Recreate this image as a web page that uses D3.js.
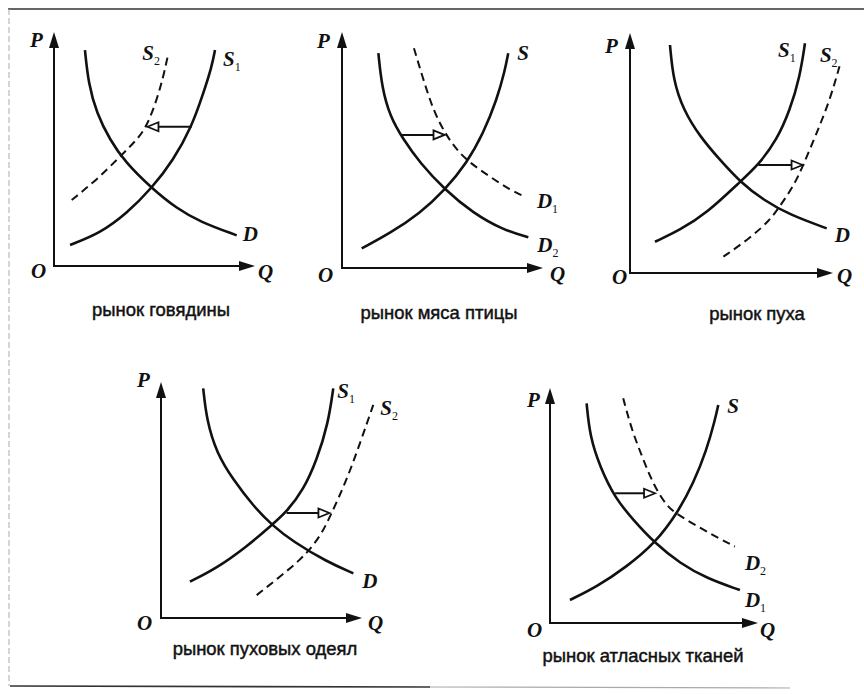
<!DOCTYPE html>
<html>
<head>
<meta charset="utf-8">
<script src="https://cdn.jsdelivr.net/npm/d3@7"></script>
<style>
  body { margin: 0; background: #fff; }
  svg { display: block; }
</style>
</head>
<body>
<div id="chart"></div>
<script>
// captions under each small diagram
const captions = ["рынок говядины", "рынок мяса птицы", "рынок пуха", "рынок пуховых одеял", "рынок атласных тканей"];

// curve points as [Q, P] in axis units (0..10)
const beefD  = [[1.54, 9.23], [1.71, 7.81], [2.12, 6.53], [2.79, 5.38], [3.53, 4.45], [4.86, 3.32], [6.10, 2.46], [7.26, 1.89], [9.09, 1.31]];
const beefS1 = [[0.80, 0.90], [2.29, 1.40], [3.62, 2.25], [4.86, 3.32], [5.94, 4.53], [6.85, 5.95], [7.43, 7.38], [7.85, 8.52], [8.01, 9.23]];
const beefS2 = [[0.88, 2.82], [2.12, 3.68], [3.28, 4.67], [4.11, 5.38], [4.61, 5.95], [5.11, 7.09], [5.44, 8.09], [5.69, 9.09]];

const poultryS  = [[0.98, 0.83], [2.39, 1.47], [3.88, 2.32], [5.12, 3.31], [6.20, 4.44], [7.03, 5.71], [7.70, 7.12], [8.11, 8.39], [8.27, 9.10]];
const poultryD2 = [[1.81, 9.10], [1.98, 7.68], [2.39, 6.41], [3.05, 5.45], [3.88, 4.45], [5.12, 3.31], [6.53, 2.32], [8.02, 1.61], [9.27, 1.30]];
const poultryD1 = [[3.58, 9.31], [4.05, 7.97], [4.54, 6.69], [5.12, 5.71], [5.71, 5.00], [6.37, 4.45], [7.36, 3.87], [8.36, 3.31], [9.10, 3.02]];

const downD  = [[1.97, 9.50], [2.13, 8.04], [2.63, 6.79], [3.45, 5.68], [4.43, 4.71], [5.42, 3.80], [6.57, 3.04], [7.88, 2.42], [9.69, 1.86]];
const downS1 = [[1.23, 1.30], [2.46, 1.79], [3.78, 2.49], [5.42, 3.80], [6.32, 4.50], [7.23, 5.54], [7.88, 6.79], [8.37, 8.18], [8.62, 9.57]];
const downS2 = [[4.60, 0.68], [5.91, 1.45], [6.90, 2.21], [7.31, 2.70], [8.05, 3.60], [8.54, 4.50], [9.19, 5.82], [9.85, 7.21], [10.34, 8.67]];

const quiltD  = [[2.10, 9.73], [2.27, 8.39], [2.77, 6.98], [3.60, 5.85], [4.59, 4.75], [5.51, 3.94], [6.58, 3.23], [8.24, 2.39], [9.57, 1.89]];
const quiltS1 = [[1.44, 1.54], [2.77, 2.11], [4.26, 3.02], [5.51, 3.94], [6.25, 4.50], [7.08, 5.42], [7.75, 6.69], [8.32, 8.25], [8.57, 9.73]];
const quiltS2 = [[4.76, 0.97], [5.92, 1.75], [6.92, 2.46], [7.50, 3.00], [8.00, 3.59], [8.41, 4.29], [9.24, 5.85], [9.90, 7.40], [10.56, 9.03]];

const satinD1 = [[1.76, 9.35], [1.92, 7.93], [2.40, 6.65], [3.13, 5.31], [4.01, 4.38], [5.05, 3.39], [6.25, 2.54], [7.53, 1.90], [9.13, 1.40]];
const satinS  = [[0.96, 0.98], [2.25, 1.54], [3.69, 2.40], [5.05, 3.39], [6.17, 4.74], [6.89, 5.94], [7.53, 7.36], [7.93, 8.64], [8.09, 9.28]];
const satinD2 = [[3.52, 9.56], [3.93, 8.21], [4.49, 6.94], [4.97, 5.90], [5.61, 4.95], [6.25, 4.55], [7.21, 4.05], [8.17, 3.58], [8.89, 3.25]];

// shift arrows: [P level, Q from, Q to]
const shifts = [[5.95, 6.85, 4.65], [5.64, 2.95, 5.10], [4.50, 6.32, 8.50], [4.45, 6.25, 8.38], [5.52, 3.13, 5.05]];

// layout of each diagram (pixels) and its curves
const panels = [
  { ox: 54,  oy: 266, w: 201, h: 234, cap: [107, 50], P: [-24, 15], O: [-23, 12], Q: [3, 13],
    curves: [
      { pts: beefS2, name: "S", sub: "2", dashed: true, lab: [-26, 7] },
      { pts: beefS1, name: "S", sub: "1", lab: [8, 16] },
      { pts: beefD,  name: "D", sub: "",  lab: [6, 6] }
    ] },
  { ox: 342, oy: 268, w: 201, h: 236, cap: [97, 51], P: [-25, 16], O: [-24, 14], Q: [7, 13],
    curves: [
      { pts: poultryS,  name: "S", sub: "",  lab: [9, 7] },
      { pts: poultryD1, name: "D", sub: "1", dashed: true, lab: [12, 11] },
      { pts: poultryD2, name: "D", sub: "2", lab: [9, 15] }
    ] },
  { ox: 630, oy: 273, w: 203, h: 240, cap: [127, 47], P: [-25, 20], O: [-18, 11], Q: [4, 10],
    curves: [
      { pts: downS1, name: "S", sub: "1", lab: [-27, 14] },
      { pts: downS2, name: "S", sub: "2", dashed: true, lab: [-20, -3] },
      { pts: downD,  name: "D", sub: "",  lab: [8, 14] }
    ] },
  { ox: 161, oy: 618, w: 201, h: 236, cap: [104, 37], P: [-24, 5],  O: [-24, 12], Q: [6, 12],
    curves: [
      { pts: quiltS1, name: "S", sub: "1", lab: [4, 10] },
      { pts: quiltS2, name: "S", sub: "2", dashed: true, lab: [7, 10] },
      { pts: quiltD,  name: "D", sub: "",  lab: [9, 15] }
    ] },
  { ox: 550, oy: 623, w: 208, h: 235, cap: [93, 39], P: [-23, 19], O: [-23, 14], Q: [2, 14],
    curves: [
      { pts: satinS,  name: "S", sub: "",  lab: [9, 8] },
      { pts: satinD2, name: "D", sub: "2", dashed: true, lab: [10, 23] },
      { pts: satinD1, name: "D", sub: "1", lab: [5, 17] }
    ] }
];

const W = 864, H = 694;
const serif = "'Liberation Serif', 'Times New Roman', serif";

const svg = d3.select('#chart').append('svg')
  .attr('width', W)
  .attr('height', H);

// page frame (scan edges)
svg.append('line').attr('x1', 8).attr('y1', 9).attr('x2', W).attr('y2', 9)
  .attr('stroke', '#333').attr('stroke-width', 1.6);
svg.append('line').attr('x1', 9).attr('y1', 9).attr('x2', 9).attr('y2', 686)
  .attr('stroke', '#aaa').attr('stroke-width', 1).attr('stroke-dasharray', '6,3');
svg.append('line').attr('x1', 10).attr('y1', 686).attr('x2', 430).attr('y2', 687)
  .attr('stroke', '#333').attr('stroke-width', 1.6);
svg.append('line').attr('x1', 430).attr('y1', 687).attr('x2', 790).attr('y2', 688)
  .attr('stroke', '#aaa').attr('stroke-width', 1.2);

const capTexts = [];

panels.forEach((p, i) => {
  const x = d3.scaleLinear().domain([0, 10]).range([p.ox, p.ox + p.w]);
  const y = d3.scaleLinear().domain([0, 10]).range([p.oy, p.oy - p.h]);
  const g = svg.append('g');

  // axes
  g.append('line')
    .attr('x1', x(0)).attr('y1', y(0)).attr('x2', x(0)).attr('y2', y(10) + 12)
    .attr('stroke', '#111').attr('stroke-width', 2);
  g.append('line')
    .attr('x1', x(0) - 1).attr('y1', y(0)).attr('x2', x(10) - 12).attr('y2', y(0))
    .attr('stroke', '#111').attr('stroke-width', 2);
  g.append('path')
    .attr('d', `M${x(0)},${y(10)} L${x(0) - 5},${y(10) + 16} L${x(0) + 5},${y(10) + 16} Z`)
    .attr('fill', '#111');
  g.append('path')
    .attr('d', `M${x(10)},${y(0)} L${x(10) - 16},${y(0) - 5} L${x(10) - 16},${y(0) + 5} Z`)
    .attr('fill', '#111');

  // axis letters
  const letter = (txt, px, py) => g.append('text')
    .attr('x', px).attr('y', py)
    .attr('font-family', serif).attr('font-style', 'italic').attr('font-weight', 'bold')
    .attr('font-size', 21).attr('fill', '#111')
    .text(txt);
  letter('P', x(0) + p.P[0], y(10) + p.P[1]);
  letter('O', x(0) + p.O[0], y(0) + p.O[1]);
  letter('Q', x(10) + p.Q[0], y(0) + p.Q[1]);

  // curves
  const line = d3.line()
    .x(d => x(d[0]))
    .y(d => y(d[1]))
    .curve(d3.curveBasis);

  p.curves.forEach(c => {
    g.append('path')
      .attr('d', line(c.pts))
      .attr('fill', 'none')
      .attr('stroke', '#111')
      .attr('stroke-width', c.dashed ? 2 : 2.6)
      .attr('stroke-dasharray', c.dashed ? '8,5' : null);

    const end = c.pts[c.pts.length - 1];
    const t = g.append('text')
      .attr('x', x(end[0]) + c.lab[0])
      .attr('y', y(end[1]) + c.lab[1])
      .attr('font-family', serif).attr('font-style', 'italic').attr('font-weight', 'bold')
      .attr('font-size', 21).attr('fill', '#111')
      .text(c.name);
    if (c.sub) {
      t.append('tspan')
        .attr('dy', 5)
        .attr('font-size', 12)
        .attr('font-style', 'normal')
        .attr('font-weight', 'normal')
        .text(c.sub);
    }
  });

  // shift arrow with an open head
  const s = shifts[i];
  const dir = Math.sign(s[2] - s[1]);
  const tipX = x(s[2]), ay = y(s[0]);
  g.append('line')
    .attr('x1', x(s[1])).attr('y1', ay)
    .attr('x2', tipX - dir * 10).attr('y2', ay)
    .attr('stroke', '#111').attr('stroke-width', 2);
  g.append('path')
    .attr('d', `M${tipX},${ay} L${tipX - dir * 11},${ay - 4.5} L${tipX - dir * 11},${ay + 4.5} Z`)
    .attr('fill', '#fff').attr('stroke', '#111').attr('stroke-width', 1.8)
    .attr('stroke-linejoin', 'miter');

  // caption
  const cap = svg.append('text')
    .attr('text-anchor', 'middle')
    .attr('font-family', "'Liberation Sans Narrow', 'Arial Narrow', 'Liberation Sans', sans-serif")
    .attr('font-size', 18)
    .attr('fill', '#111')
    .attr('stroke', '#111')
    .attr('stroke-width', 0.45)
    .attr('transform', `translate(${x(0) + p.cap[0]},${y(0) + p.cap[1]})`)
    .text(captions[i]);
  capTexts.push(cap);
});

// squeeze captions so the first one matches its width in the scan
const sx = 138 / capTexts[0].node().getComputedTextLength();
capTexts.forEach(t => t.attr('transform', t.attr('transform') + ` scale(${sx},1)`));
</script>
</body>
</html>
